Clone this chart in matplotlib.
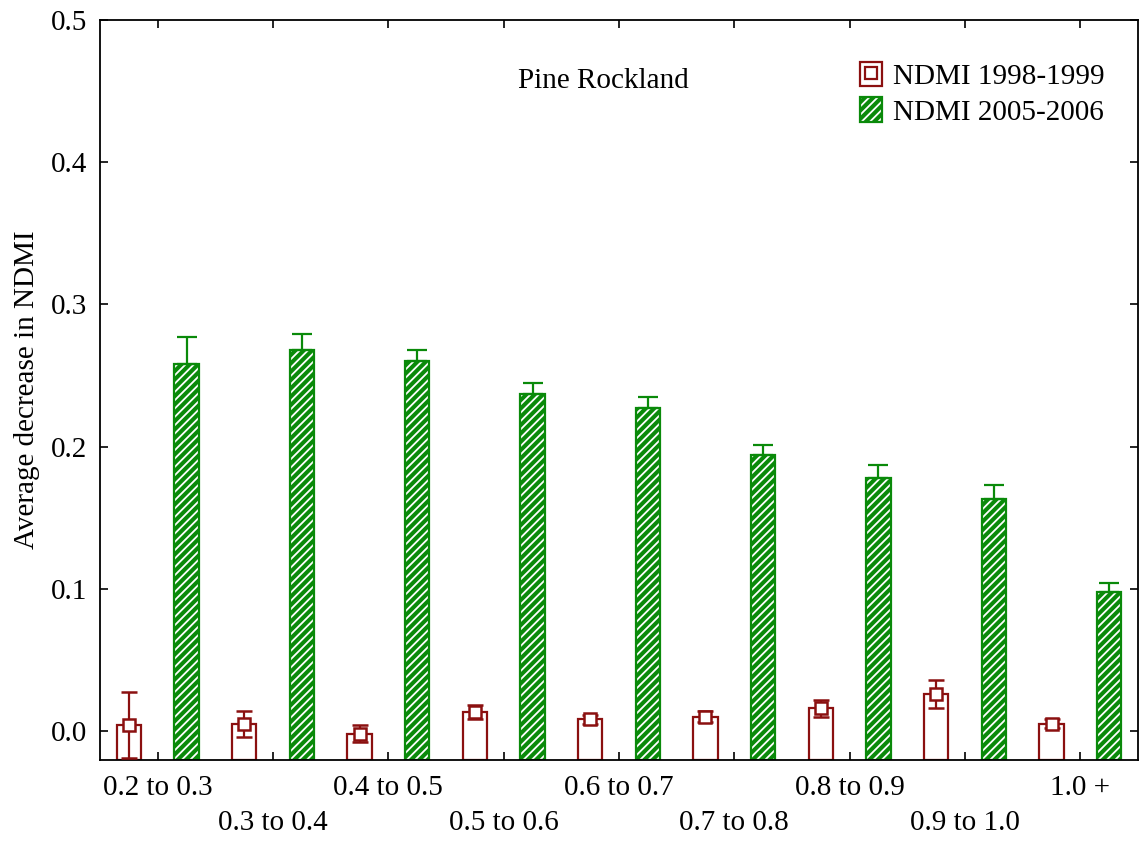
import numpy as np
import matplotlib
matplotlib.use("Agg")
import matplotlib.pyplot as plt
from matplotlib.patches import Patch
from matplotlib.lines import Line2D

plt.rcParams['font.family'] = ['Liberation Serif', 'DejaVu Serif']
plt.rcParams['hatch.linewidth'] = 1.3

# NDMI decrease by class
classes = ["0.2 to 0.3", "0.3 to 0.4", "0.4 to 0.5", "0.5 to 0.6", "0.6 to 0.7",
           "0.7 to 0.8", "0.8 to 0.9", "0.9 to 1.0", "1.0 +"]
ndmi_9899 = [0.004, 0.005, -0.002, 0.013, 0.008, 0.010, 0.016, 0.026, 0.005]
err_9899 = [0.023, 0.009, 0.006, 0.005, 0.003, 0.004, 0.006, 0.010, 0.003]
ndmi_0506 = [0.258, 0.268, 0.260, 0.237, 0.227, 0.194, 0.178, 0.163, 0.098]
err_0506 = [0.019, 0.011, 0.008, 0.008, 0.008, 0.007, 0.009, 0.010, 0.006]

red = '#8b1010'
green = '#0a8a0a'
ymin = -0.0205

fig = plt.figure(figsize=(11.41, 8.42), dpi=100)
ax = fig.add_axes([100 / 1141, 1 - 760 / 842, 1038 / 1141, 740 / 842])

x = np.arange(len(classes))
off = 0.25
w = 0.21

# bars rise from the bottom of the axis
h_9899 = np.array(ndmi_9899) - ymin
h_0506 = np.array(ndmi_0506) - ymin

# 1998-1999: open bars, square markers, two-sided error bars
ax.bar(x - off, h_9899, w, bottom=ymin, facecolor='white', edgecolor=red,
       linewidth=1.6, zorder=2)
ax.errorbar(x - off, ndmi_9899, yerr=err_9899, fmt='s', color=red, markersize=9,
            markerfacecolor='white', markeredgewidth=1.8, elinewidth=1.6,
            capsize=6, capthick=1.6, zorder=3)

# 2005-2006: hatched green bars, upper error bars only
ax.bar(x + off, h_0506, w, bottom=ymin, facecolor=green, edgecolor='white',
       hatch='////', linewidth=0, zorder=2)
ax.bar(x + off, h_0506, w, bottom=ymin, fill=False, edgecolor=green,
       linewidth=1.6, zorder=2)
ax.errorbar(x + off, ndmi_0506, yerr=[np.zeros(len(x)), err_0506], fmt='none',
            ecolor=green, elinewidth=1.6, capsize=7, capthick=1.6, zorder=3)

ax.set_xlim(-0.5, len(classes) - 0.5)
ax.set_ylim(ymin, 0.5)
ax.set_yticks([0.0, 0.1, 0.2, 0.3, 0.4, 0.5])
ax.set_yticklabels(['0.0', '0.1', '0.2', '0.3', '0.4', '0.5'])
ax.set_xticks(x)
ax.set_xticklabels([c if i % 2 == 0 else '\n' + c for i, c in enumerate(classes)],
                   linespacing=1.45)
ax.tick_params(direction='in', length=6, width=1.2, labelsize=21,
               top=True, right=True, pad=11)
ax.tick_params(axis='y', pad=9)
for s in ax.spines.values():
    s.set_linewidth(1.3)

ax.set_ylabel('Average decrease in NDMI', fontsize=21, labelpad=8)
ax.text(0.485, 0.918, 'Pine Rockland', transform=ax.transAxes, fontsize=21,
        ha='center', va='center')

h1 = (Patch(facecolor='white', edgecolor=red, linewidth=1.6),
      Line2D([], [], marker='s', color=red, markerfacecolor='white',
             markersize=8, markeredgewidth=1.6, linestyle='none'))
h2 = (Patch(facecolor=green, edgecolor='white', hatch='////', linewidth=0),
      Patch(fill=False, edgecolor=green, linewidth=1.6))
ax.legend([h1, h2], ['NDMI 1998-1999', 'NDMI 2005-2006'], loc='upper right',
          bbox_to_anchor=(0.985, 0.967), frameon=False, fontsize=21,
          handlelength=0.75, handleheight=0.9, handletextpad=0.4,
          labelspacing=0.25, borderaxespad=0.2)

fig.savefig('out.png', dpi=100)
